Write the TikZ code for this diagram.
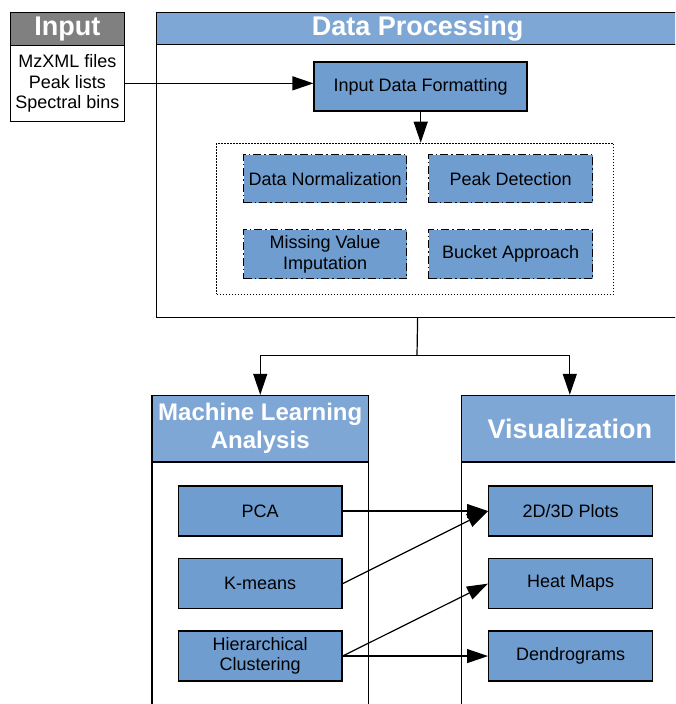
\documentclass[tikz,border=0pt]{standalone}
\usepackage{fontspec}
\setmainfont{Liberation Sans}
\usetikzlibrary{arrows.meta}

\definecolor{headblue}{RGB}{127,167,213}
\definecolor{boxblue}{RGB}{111,157,208}
\definecolor{headgray}{RGB}{128,128,128}

\tikzset{
  frame/.style={draw=black, line width=1.2pt, rectangle, anchor=north west, inner sep=0pt},
  titlebar/.style={frame, fill=headblue, text=white, font=\fontsize{27}{28}\selectfont\bfseries, align=center},
  panel/.style={frame, fill=white},
  procbox/.style={draw=black, line width=1.3pt, rectangle, anchor=north west, inner sep=0pt,
    fill=boxblue, font=\fontsize{18}{20.5}\selectfont, align=center},
  substep/.style={procbox, line width=1.2pt, dash pattern=on 8pt off 3pt on 1.5pt off 3pt},
  link/.style={line width=1.2pt, -{Triangle[length=21pt, width=14pt]}},
  plain/.style={line width=1.2pt}
}

\begin{document}
\begin{tikzpicture}[x=1pt, y=-1pt]
\useasboundingbox (0,0) rectangle (675,704);
\clip (0,0) rectangle (675,704);
\fill[white] (0,0) rectangle (675,704);

% Input panel
\node[titlebar, fill=headgray, minimum width=114.5pt, minimum height=33pt] (inhead) at (9.5,12) {Input};
\node[panel, minimum width=114.5pt, minimum height=75.5pt, align=center,
      font=\fontsize{18}{20.5}\selectfont] (inbody) at (9.5,45) {MzXML files\\Peak lists\\Spectral bins};

% Data processing panel
\node[titlebar, minimum width=522pt, minimum height=32pt] (dphead) at (156,12) {Data Processing};
\node[panel, minimum width=522pt, minimum height=273pt] (dpbody) at (156,44) {};

\node[procbox, minimum width=213pt, minimum height=49pt, line width=1.6pt] (fmt) at (313.4,61.3) {Input Data Formatting};

\node[draw=black, line width=1.2pt, dash pattern=on 1.5pt off 1.5pt, rectangle, anchor=north west,
      minimum width=397pt, minimum height=151pt] (group) at (216,142.7) {};

\node[substep, minimum width=163pt, minimum height=48pt] (norm) at (243,154) {Data Normalization};
\node[substep, minimum width=164pt, minimum height=48pt] (peak) at (428,154) {Peak Detection};
\node[substep, minimum width=163pt, minimum height=49pt] (impute) at (243,229) {Missing Value\\Imputation};
\node[substep, minimum width=164pt, minimum height=49pt] (bucket) at (428,229) {Bucket Approach};

% Machine learning panel
\node[titlebar, minimum width=216.7pt, minimum height=66.6pt, font=\fontsize{24}{28}\selectfont\bfseries] (mlhead) at (151.3,394.8) {Machine Learning\\Analysis};
\node[panel, minimum width=216.7pt, minimum height=260pt] (mlbody) at (151.3,461.4) {};

% Visualization panel
\node[titlebar, minimum width=217pt, minimum height=66.6pt] (vishead) at (460.7,394.8) {Visualization};
\node[panel, minimum width=217pt, minimum height=260pt] (visbody) at (460.7,461.4) {};

\node[procbox, minimum width=163.8pt, minimum height=50pt] (pca) at (177.5,485.4) {PCA};
\node[procbox, minimum width=163.8pt, minimum height=50pt] (kmeans) at (177.5,558) {K-means};
\node[procbox, minimum width=163.8pt, minimum height=50pt] (hclust) at (177.5,630.4) {Hierarchical\\Clustering};

\node[procbox, minimum width=163.8pt, minimum height=50pt] (plots) at (488,485.4) {2D/3D Plots};
\node[procbox, minimum width=163.8pt, minimum height=50pt] (heat) at (488,558) {Heat Maps};
\node[procbox, minimum width=163.8pt, minimum height=50pt] (dendro) at (488,630.4) {Dendrograms};

% Connectors
\draw[link] (inbody.east) -- (inbody.east -| fmt.west);
\draw[link] (fmt.south) -- (fmt.south |- group.north);

\coordinate (split) at (417,355.6);
\draw[plain] (dpbody.south) -- (split);
\draw[link] (split) -| (mlhead.north);
\draw[link] (split) -| (vishead.north);

\draw[link] (pca.east) -- (plots.west);
\draw[link] (kmeans.east) -- (plots.west);
\draw[link] (hclust.east) -- (heat.west);
\draw[link] (hclust.east) -- (dendro.west);
\end{tikzpicture}
\end{document}
